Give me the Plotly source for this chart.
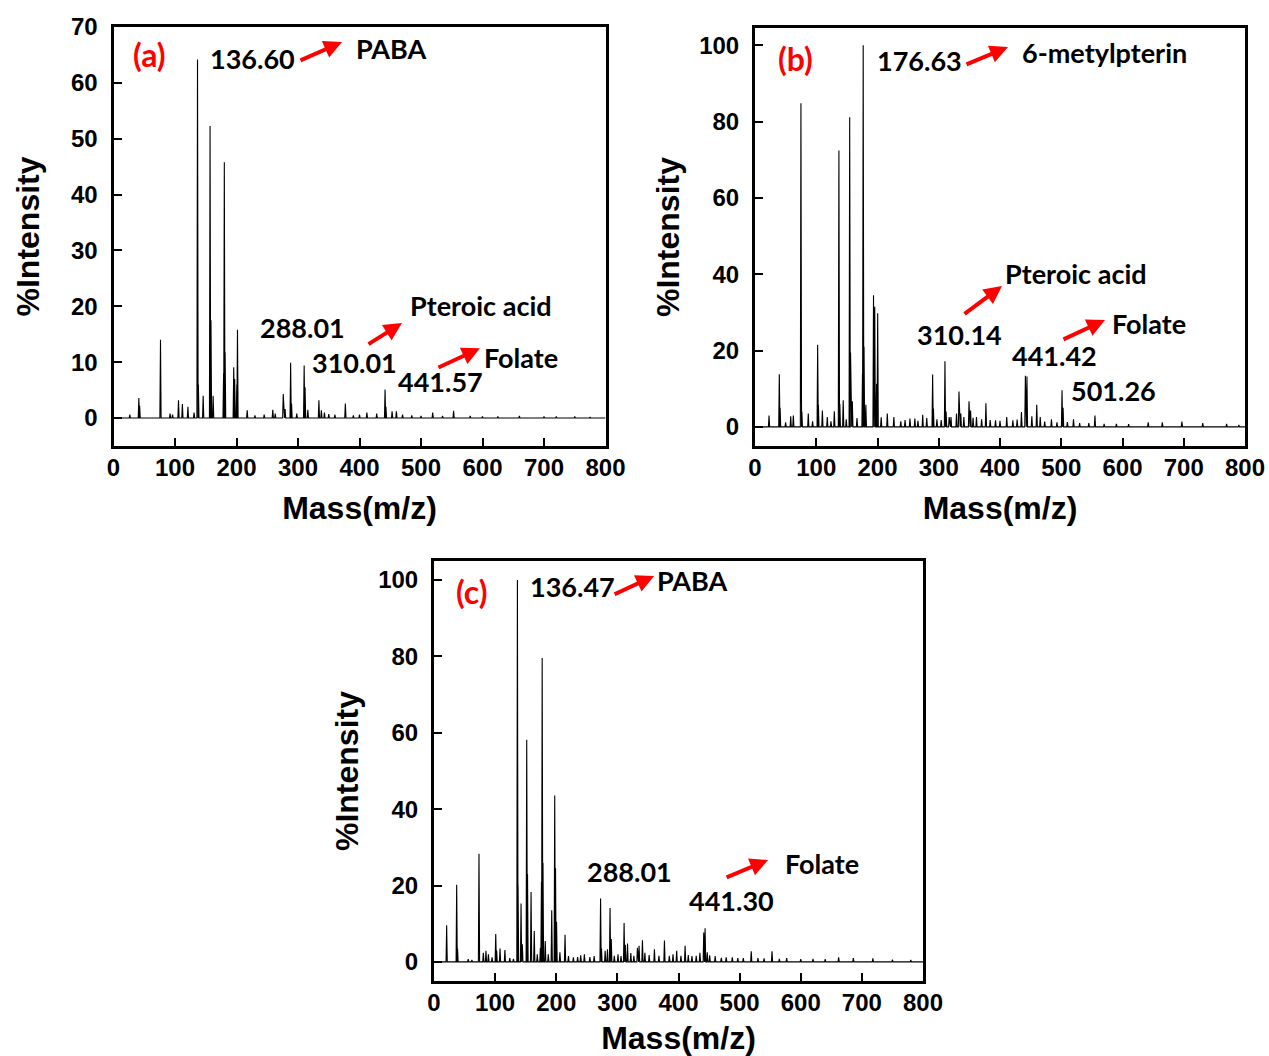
import plotly.graph_objects as go

W, H = 1269, 1056

# ---- Panel (a): peak list (m/z, % intensity) ----
a_mz = [26.5, 41.2, 42.5, 76.4, 92, 96, 105.7, 112, 121, 131,
        136.60, 138, 145.8, 157.0, 158.5, 162, 179, 180.2, 181.5,
        195.5, 197, 200.5, 201.6, 217.4, 230, 245, 259, 263, 276, 279,
        288.01, 289.5, 298, 310.01, 311.5, 316, 334, 338, 343, 350, 360,
        377, 390, 400, 412, 428, 441.57, 443, 453, 460, 470, 485, 500,
        519, 535, 553, 580, 600, 625, 660, 700, 720, 750, 775]
a_int = [0.6, 3.6, 2.2, 14.0, 0.8, 0.6, 3.2, 2.5, 2.0, 1.0,
         64.2, 6.0, 4.0, 52.3, 17.5, 4.0, 8.0, 45.8, 11.8,
         9.1, 7.0, 6.0, 15.8, 1.4, 0.5, 0.6, 1.5, 0.8, 4.3, 1.6,
         9.9, 2.6, 0.8, 9.4, 5.5, 1.5, 3.2, 1.4, 1.0, 0.7, 0.6,
         2.6, 0.5, 0.6, 1.0, 0.8, 5.1, 2.0, 1.2, 1.2, 0.6, 0.5, 0.4,
         1.0, 0.4, 1.3, 0.4, 0.3, 0.3, 0.4, 0.3, 0.3, 0.3, 0.2]

# ---- Panel (b): peak list ----
b_mz = [22.9, 39.7, 41, 50, 58.3, 62.6, 75, 76.5, 87, 94,
        102.3, 103.5, 110, 118, 124, 129.5, 137, 138.5, 144, 149,
        154.6, 156, 158.9, 166.5, 175.5, 176.63, 178, 181,
        193.5, 195.5, 198.5, 200.3, 206, 216, 226.7, 238, 245, 253, 261, 266,
        273.8, 280.4, 290, 291.3, 297, 304, 310.14, 312, 317, 320, 329, 333,
        336, 341, 349.4, 352, 356, 361.6, 370, 377, 384, 392.7, 400, 411, 421,
        428, 435, 441.42, 444, 452, 460, 465.7, 473, 484, 493, 501.26, 503,
        510, 520, 530, 545, 555, 570, 590, 610, 642, 665, 697, 731, 770, 790]
b_int = [3.0, 13.8, 5.0, 1.2, 2.8, 3.0, 84.8, 4.0, 3.5, 1.5,
         21.5, 5.8, 4.3, 2.6, 1.5, 4.1, 72.4, 6.0, 7.0, 2.0,
         81.1, 19.5, 6.7, 2.3, 14.0, 100.0, 21.0, 5.8,
         34.5, 31.5, 11.3, 29.8, 2.5, 3.5, 2.6, 1.5, 1.8, 2.2, 2.2, 1.6,
         3.2, 2.3, 13.7, 4.8, 2.0, 1.8, 17.2, 4.0, 2.6, 2.6, 3.5, 9.3,
         3.5, 2.6, 6.7, 4.3, 2.4, 2.6, 2.0, 6.2, 1.8, 1.7, 1.6, 2.6, 1.7,
         1.9, 3.9, 13.4, 13.2, 2.8, 5.8, 2.6, 1.4, 2.0, 1.2, 9.6, 5.0,
         1.3, 2.0, 1.0, 1.0, 3.0, 0.8, 0.8, 0.7, 1.2, 1.2, 1.4, 1.0, 0.8, 0.5]

# ---- Panel (c): peak list ----
c_mz = [20.7, 37.1, 38.5, 56, 62, 73.6, 80.7, 85, 89, 95,
        101, 102.5, 108, 116, 124, 130, 136.47, 137.5, 142.4, 144.5,
        151.7, 153, 158.8, 164, 169, 174, 175.8, 177, 178.3, 182, 187,
        192.6, 197.5, 198.8, 200.5, 206, 214.4, 220, 228, 235, 240, 246,
        255, 262, 272.5, 274, 280, 283.8, 288.01, 290, 295, 301, 306,
        311, 313, 316.6, 322, 327, 332.8, 335.5, 341, 345, 352, 360.6,
        368, 377, 385, 391, 397, 404, 410.8, 416, 422, 429, 435,
        441.30, 443.5, 447, 451, 460, 470, 478, 488, 497, 506, 519,
        530, 540, 553, 565, 577, 600, 620, 640, 662, 686, 718, 750, 780]
c_int = [9.6, 20.2, 3.5, 0.7, 0.5, 28.3, 2.4, 2.9, 2.0, 1.2,
         7.3, 3.0, 3.5, 3.1, 1.0, 0.8, 100.0, 20.0, 15.3, 4.6,
         58.2, 23.0, 18.3, 8.1, 2.0, 3.7, 21.0, 79.6, 26.0, 5.5, 2.0,
         13.5, 43.6, 24.5, 10.5, 2.5, 7.1, 1.5, 1.2, 1.3, 1.7, 2.0,
         1.3, 1.5, 16.6, 3.5, 2.9, 3.3, 14.1, 6.0, 1.6, 2.0, 1.5,
         10.2, 4.5, 4.8, 2.3, 1.6, 3.7, 4.2, 5.7, 2.4, 1.8, 3.3,
         1.6, 5.6, 1.6, 2.0, 2.9, 1.6, 4.2, 1.8, 1.5, 1.6, 2.4,
         7.7, 8.8, 2.5, 1.7, 1.5, 1.1, 1.2, 1.2, 1.0, 1.0, 2.8,
         1.0, 0.9, 2.8, 0.8, 1.0, 0.7, 0.8, 0.7, 1.2, 1.0, 0.9, 0.6, 0.5]

x_ticks = [0, 100, 200, 300, 400, 500, 600, 700, 800]
a_yticks = [0, 10, 20, 30, 40, 50, 60, 70]
bc_yticks = [0, 20, 40, 60, 80, 100]


def stick_profile(mz, inten, half_width=1.0, x_max=800):
    """Turn a peak list into a narrow-peaked profile line."""
    xs, ys = [0], [0]
    for m, h in sorted(zip(mz, inten)):
        xs += [m - half_width, m, m + half_width]
        ys += [0, h, 0]
    xs.append(x_max)
    ys.append(0)
    return xs, ys


def px_x(px):
    return px / W


def px_y(py):
    return 1 - py / H


fig = go.Figure()
for (mz, it), ax_id in [((a_mz, a_int), ""), ((b_mz, b_int), "2"), ((c_mz, c_int), "3")]:
    xs, ys = stick_profile(mz, it)
    fig.add_trace(go.Scatter(x=xs, y=ys, mode="lines",
                             line=dict(color="black", width=1.1),
                             xaxis="x" + ax_id, yaxis="y" + ax_id,
                             showlegend=False, hoverinfo="skip"))

tick_font = dict(family="Liberation Sans, Arial", size=24, color="black", weight="bold")
title_font = dict(family="Liberation Sans, Arial", size=32, color="black", weight="bold")


def x_axis(domain, anchor):
    return dict(domain=domain, anchor=anchor, range=[0, 800], tickvals=x_ticks,
                ticks="inside", ticklen=8, tickwidth=2, tickcolor="black",
                showline=True, linewidth=3, linecolor="black", mirror=True,
                showgrid=False, zeroline=False, tickfont=tick_font,
                ticklabelstandoff=-2, automargin=False,
                title=dict(text="Mass(m/z)", font=title_font, standoff=17))


def y_axis(domain, anchor, rng, tickvals, title_gap):
    return dict(domain=domain, anchor=anchor, range=rng, tickvals=tickvals,
                ticks="inside", ticklen=8, tickwidth=2, tickcolor="black",
                showline=True, linewidth=3, linecolor="black", mirror=True,
                showgrid=False, zeroline=False, tickfont=tick_font,
                ticklabelstandoff=8, automargin=False,
                title=dict(text="%Intensity", font=title_font, standoff=title_gap))


label_font = dict(family="Lato", size=27, color="black", weight="bold")
panel_font = dict(family="Lato", size=32, color="#ff0000", weight="bold")

annotations = []


def add_text(xref, yref, x, y, text, font=label_font):
    annotations.append(dict(x=x, y=y, xref=xref, yref=yref, text=text, showarrow=False,
                            font=font, xanchor="center", yanchor="middle"))


def add_arrow(xref, yref, x, y, dx, dy):
    annotations.append(dict(x=x, y=y, xref=xref, yref=yref, ax=dx, ay=dy, text="",
                            showarrow=True, arrowhead=2, arrowsize=0.9, arrowwidth=4,
                            arrowcolor="#ff0000", standoff=0, startstandoff=0))


# Panel (a)
add_text("x", "y", 59.3, 65.0, "(a)", panel_font)
add_text("x", "y", 226.8, 64.3, "136.60")
add_text("x", "y", 452.8, 66.2, "PABA")
add_arrow("x", "y", 371.5, 67.3, -43, 19)
add_text("x", "y", 308.1, 16.2, "288.01")
add_text("x", "y", 597.6, 20.1, "Pteroic acid")
add_arrow("x", "y", 469.1, 17.0, -35, 22)
add_text("x", "y", 391.1, 10.0, "310.01")
add_text("x", "y", 662.6, 10.9, "Folate")
add_arrow("x", "y", 595.9, 12.5, -43, 20)
add_text("x", "y", 530.9, 6.5, "441.57")

# Panel (b)
add_text("x2", "y2", 65.3, 96.6, "(b)", panel_font)
add_text("x2", "y2", 267.8, 96.1, "176.63")
add_text("x2", "y2", 569.8, 98.2, "6-metylpterin")
add_arrow("x2", "y2", 413.1, 99.5, -43, 18)
add_text("x2", "y2", 524.1, 40.1, "Pteroic acid")
add_arrow("x2", "y2", 403.3, 36.9, -39, 29)
add_text("x2", "y2", 333.1, 24.1, "310.14")
add_text("x2", "y2", 643.3, 27.2, "Folate")
add_arrow("x2", "y2", 571.4, 28.0, -43, 20)
add_text("x2", "y2", 488.2, 18.8, "441.42")
add_text("x2", "y2", 586.1, 9.6, "501.26")

# Panel (c)
add_text("x3", "y3", 62.2, 96.9, "(c)", panel_font)
add_text("x3", "y3", 225.9, 98.2, "136.47")
add_text("x3", "y3", 422.3, 100.0, "PABA")
add_arrow("x3", "y3", 360.1, 101.1, -41, 19)
add_text("x3", "y3", 319.1, 23.8, "288.01")
add_text("x3", "y3", 635.0, 25.9, "Folate")
add_arrow("x3", "y3", 546.6, 26.7, -43, 18)
add_text("x3", "y3", 486.1, 16.2, "441.30")

fig.update_layout(
    width=W, height=H,
    margin=dict(l=0, r=0, t=0, b=0, pad=0, autoexpand=False),
    paper_bgcolor="white", plot_bgcolor="white",
    xaxis=x_axis([px_x(113.5), px_x(605.5)], "y"),
    yaxis=y_axis([px_y(446), px_y(27)], "x", [-5, 70], a_yticks, 22),
    xaxis2=x_axis([px_x(755), px_x(1245)], "y2"),
    yaxis2=y_axis([px_y(446), px_y(28)], "x2", [-5, 104.5], bc_yticks, 10),
    xaxis3=x_axis([px_x(434), px_x(923)], "y3"),
    yaxis3=y_axis([px_y(981), px_y(561)], "x3", [-5, 105], bc_yticks, 10),
    annotations=annotations,
)

fig.write_html("out.html")
